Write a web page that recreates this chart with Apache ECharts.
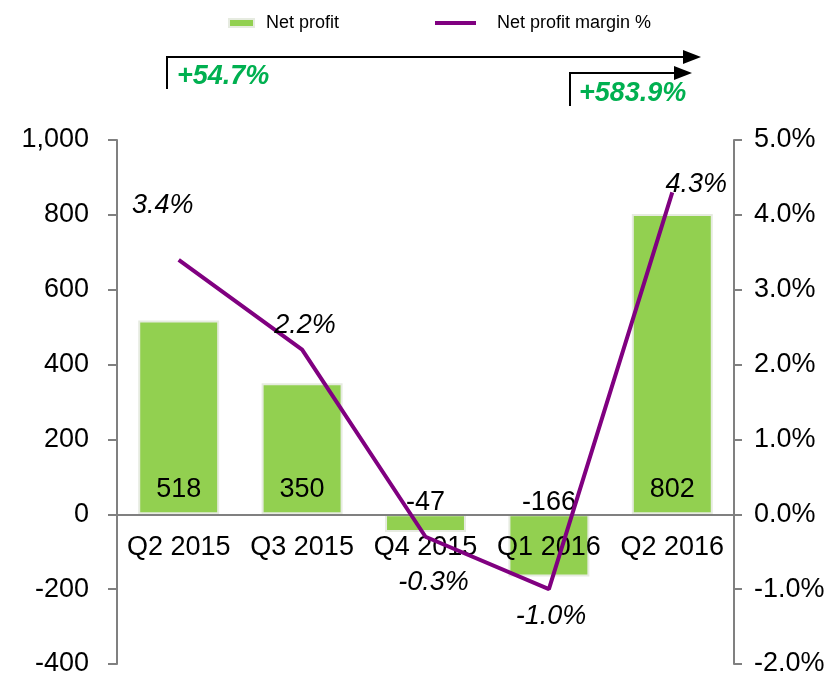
<!DOCTYPE html>
<html lang="en">
<head>
    <meta charset="UTF-8">
    <title>Net profit</title>
    <style>
        html, body { margin: 0; padding: 0; background: #fff; }
        div#main { width: 840px; height: 677px; }
    </style>
</head>
<body>
    <div id="main"></div>
    <script src="https://cdn.jsdelivr.net/npm/echarts@6/dist/echarts.min.js"></script>
    <script>
        const quarters = ["Q2 2015", "Q3 2015", "Q4 2015", "Q1 2016", "Q2 2016"];
        const netProfit = [518, 350, -47, -166, 802];
        const marginPct = [3.4, 2.2, -0.3, -1.0, 4.3];

        const font = "Liberation Sans, Arial, sans-serif";
        const myChart = echarts.init(document.getElementById('main'));

        // offset of each margin label from its point (label centred on point first)
        const marginLabelOffset = [[-16, -54], [3, -24], [8, 46], [2, 27], [24, -8]];

        const option = {
            backgroundColor: '#fff',
            textStyle: { fontFamily: font },
            animation: false,
            legend: [
                {
                    data: ['Net profit'],
                    left: 223, top: 9,
                    itemWidth: 25, itemHeight: 8, itemGap: 10,
                    icon: 'rect',
                    textStyle: { fontSize: 18, color: '#000', fontFamily: font, padding: [0, 0, 0, 7] }
                },
                {
                    data: ['Net profit margin %'],
                    left: 430, top: 9,
                    itemWidth: 41, itemHeight: 4, itemGap: 10,
                    icon: 'rect',
                    textStyle: { fontSize: 18, color: '#000', fontFamily: font, padding: [0, 0, 0, 16] }
                }
            ],
            grid: { left: 117, right: 106, top: 140, bottom: 13, outerBoundsMode: 'none' },
            xAxis: {
                type: 'category',
                data: quarters,
                z: 2,
                axisLine: { onZero: true, lineStyle: { color: '#808080', width: 2 } },
                axisTick: { show: false },
                axisLabel: {
                    fontSize: 27, color: '#000', margin: -130, fontFamily: font,
                    interval: 0, hideOverlap: false
                }
            },
            yAxis: [
                {
                    type: 'value',
                    min: -400, max: 1000, interval: 200,
                    splitLine: { show: false },
                    axisLine: { show: true, lineStyle: { color: '#808080', width: 2 } },
                    axisTick: { show: true, length: 9, lineStyle: { color: '#808080', width: 2 } },
                    axisLabel: {
                        fontSize: 27, color: '#000', margin: 28, fontFamily: font,
                        formatter: v => v.toLocaleString('en-US')
                    }
                },
                {
                    type: 'value',
                    min: -2, max: 5, interval: 1,
                    position: 'right',
                    splitLine: { show: false },
                    axisLine: { show: true, lineStyle: { color: '#808080', width: 2 } },
                    axisTick: { show: true, length: 8, lineStyle: { color: '#808080', width: 2 } },
                    axisLabel: {
                        fontSize: 27, color: '#000', margin: 20, fontFamily: font,
                        formatter: v => v.toFixed(1) + '%'
                    }
                }
            ],
            series: [
                {
                    name: 'Net profit',
                    type: 'bar',
                    barWidth: '65.6%',
                    itemStyle: { color: '#92D050', borderColor: '#e6ebe0', borderWidth: 2 },
                    data: netProfit.map(v => ({
                        value: v,
                        label: {
                            show: true,
                            position: v >= 0 ? 'insideBottom' : 'top',
                            distance: v >= 0 ? 11 : -2,
                            fontSize: 27, color: '#000', fontFamily: font
                        }
                    })),
                    z: 1
                },
                {
                    name: 'Net profit margin %',
                    type: 'line',
                    yAxisIndex: 1,
                    symbol: 'circle',
                    symbolSize: 0.1,
                    lineStyle: { color: '#800080', width: 4 },
                    itemStyle: { color: '#800080' },
                    data: marginPct.map((v, i) => ({
                        value: v,
                        label: {
                            show: true,
                            position: 'inside',
                            offset: marginLabelOffset[i],
                            fontSize: 27, fontStyle: 'italic', color: '#000', fontFamily: font,
                            formatter: p => p.value.toFixed(1) + '%'
                        }
                    })),
                    z: 3
                }
            ],
            graphic: [
                // long arrow Q2 2015 -> Q2 2016
                { type: 'polyline', shape: { points: [[167, 89], [167, 57], [685, 57]] },
                  style: { stroke: '#000', lineWidth: 2, fill: null } },
                { type: 'polygon', shape: { points: [[683, 50], [701, 57], [683, 64]] },
                  style: { fill: '#000' } },
                { type: 'text', left: 177, top: 63,
                  style: { text: '+54.7%', fill: '#00B050', font: 'italic bold 27px ' + font } },
                // short arrow Q1 2016 -> Q2 2016
                { type: 'polyline', shape: { points: [[570, 106], [570, 73], [676, 73]] },
                  style: { stroke: '#000', lineWidth: 2, fill: null } },
                { type: 'polygon', shape: { points: [[674, 66], [692, 73], [674, 80]] },
                  style: { fill: '#000' } },
                { type: 'text', left: 579, top: 80,
                  style: { text: '+583.9%', fill: '#00B050', font: 'italic bold 27px ' + font } }
            ]
        };

        myChart.setOption(option);
    </script>
</body>
</html>
